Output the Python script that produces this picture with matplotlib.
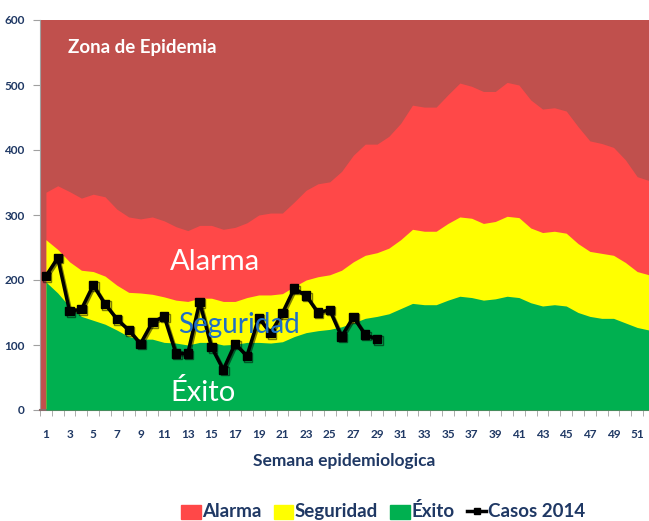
import numpy as np
import matplotlib
matplotlib.use("Agg")
import matplotlib.pyplot as plt
import matplotlib.patheffects as pe
from matplotlib.patches import Patch
from matplotlib.lines import Line2D

plt.rcParams['font.family'] = ['Lato', 'DejaVu Sans']

# Semanas epidemiologicas
weeks = list(range(1, 53))

# Upper limit of each zone (cumulative values)
exito_top = [197, 180, 159, 144, 138, 132, 123, 113, 109, 109, 104, 103, 100, 104, 104, 100,
             101, 104, 104, 103, 105, 113, 119, 122, 124, 128, 134, 141, 144, 148, 156, 164,
             162, 162, 169, 175, 173, 169, 171, 175, 173, 165, 160, 162, 160, 150, 144, 141,
             141, 134, 127, 123]
seguridad_top = [262, 247, 228, 215, 213, 206, 192, 181, 180, 178, 174, 169, 167, 172, 172, 167,
                 167, 173, 177, 177, 179, 190, 200, 205, 208, 215, 228, 238, 242, 249, 262, 278,
                 275, 275, 287, 297, 295, 287, 290, 298, 296, 280, 273, 275, 272, 256, 244, 241,
                 238, 227, 213, 208]
alarma_top = [335, 345, 336, 326, 332, 328, 309, 297, 294, 297, 291, 282, 276, 284, 284, 278,
              281, 288, 300, 303, 303, 320, 338, 348, 351, 367, 392, 409, 409, 421, 441, 469,
              466, 466, 485, 503, 498, 490, 490, 504, 500, 477, 463, 465, 460, 436, 414, 410,
              404, 385, 359, 353]

# Casos 2014 (semanas 1-29)
casos_weeks = list(range(1, 30))
casos_2014 = [206, 234, 152, 155, 192, 163, 140, 123, 102, 135, 144, 87, 87, 166, 97, 62,
              102, 83, 142, 118, 149, 187, 176, 150, 154, 113, 143, 116, 109]

y_ticks = [0, 100, 200, 300, 400, 500, 600]
x_ticklabels = list(range(1, 53, 2))

# Colors
EPIDEMIA = '#C0504D'
ALARMA = '#FF4848'
SEGURIDAD = '#FFFF00'
EXITO = '#00B050'
NAVY = '#1F3864'

fig = plt.figure(figsize=(6.49, 5.21), dpi=100)
ax = fig.add_axes([40 / 649, 111 / 521, 609 / 649, 390 / 521])
ax.set_facecolor(EPIDEMIA)

x = np.array(weeks)
ax.fill_between(x, 0, alarma_top, color=ALARMA, lw=0, zorder=1)
ax.fill_between(x, 0, seguridad_top, color=SEGURIDAD, lw=0, zorder=2)
ax.fill_between(x, 0, exito_top, color=EXITO, lw=0, zorder=3)

ax.plot(casos_weeks, casos_2014, color='black', lw=2.5, marker='s', markersize=6,
        zorder=5, path_effects=[pe.SimpleLineShadow(offset=(1, -1), alpha=0.5, shadow_color='black'),
                                pe.Normal()])

# zone labels
ax.text(2.9, 557, 'Zona de Epidemia', color='white', fontsize=13.5, fontweight='bold',
        ha='left', va='center', zorder=6)
ax.text(11.5, 228, 'Alarma', color='white', fontsize=21, ha='left', va='center', zorder=6)
ax.text(12.2, 130, 'Seguridad', color='#1F6FC5', fontsize=20, ha='left', va='center', zorder=6)
ax.text(11.5, 27, 'Éxito', color='white', fontsize=21, ha='left', va='center', zorder=6)

ax.set_xlim(0.5, 52)
ax.set_ylim(0, 600)
ax.set_yticks(y_ticks)
ax.set_yticklabels([str(v) for v in y_ticks], fontsize=8.5, fontweight='bold', color=NAVY)
ax.set_xticks(x_ticklabels)
ax.set_xticklabels([str(v) for v in x_ticklabels], fontsize=8.5, fontweight='bold', color=NAVY)
ax.set_xticks(np.arange(0.5, 52.5, 1), minor=True)
ax.tick_params(axis='x', which='major', length=0, pad=14)
ax.tick_params(axis='x', which='minor', length=4, color='#A0A0A0', direction='out')
ax.tick_params(axis='y', length=5, color='#A0A0A0', pad=6)

for s in ['top', 'right']:
    ax.spines[s].set_visible(False)
ax.spines['left'].set_color('#A0A0A0')
ax.spines['bottom'].set_color('#8B6B6B')
ax.spines['bottom'].set_linewidth(1.5)

ax.set_xlabel('Semana epidemiologica', fontsize=12.5, fontweight='bold', color=NAVY, labelpad=9)

handles = [Patch(color=ALARMA, label='Alarma'),
           Patch(color=SEGURIDAD, label='Seguridad'),
           Patch(color=EXITO, label='Éxito'),
           Line2D([0], [0], color='black', lw=2.5, marker='s', markersize=5, label='Casos 2014')]
leg = fig.legend(handles=handles, loc='center', bbox_to_anchor=(383 / 649, 1 - 511 / 521),
                 ncol=4, frameon=False, handlelength=1.4, handleheight=1.2, handletextpad=0.1,
                 columnspacing=0.9)
for t in leg.get_texts():
    t.set_fontsize(13.5)
    t.set_fontweight('bold')
    t.set_color(NAVY)

fig.savefig('out.png', dpi=100)
